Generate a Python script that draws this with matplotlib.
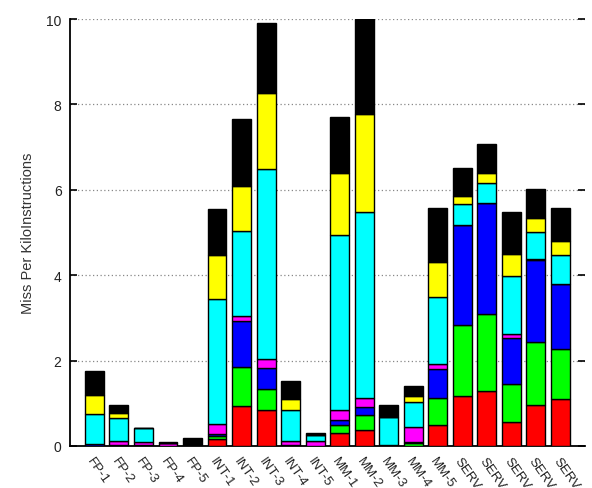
import matplotlib
matplotlib.use("Agg")
import matplotlib.pyplot as plt
import numpy as np

plt.rcParams['font.family'] = ['Liberation Sans', 'DejaVu Sans']

categories = ["FP-1", "FP-2", "FP-3", "FP-4", "FP-5",
              "INT-1", "INT-2", "INT-3", "INT-4", "INT-5",
              "MM-1", "MM-2", "MM-3", "MM-4", "MM-5",
              "SERV-1", "SERV-2", "SERV-3", "SERV-4", "SERV-5"]

red     = [0.00, 0.00, 0.00, 0.00, 0.00, 0.17, 0.93, 0.85, 0.00, 0.00, 0.30, 0.37, 0.00, 0.00, 0.48, 1.18, 1.28, 0.55, 0.97, 1.10]
green   = [0.00, 0.00, 0.00, 0.00, 0.00, 0.07, 0.92, 0.48, 0.00, 0.00, 0.18, 0.36, 0.00, 0.06, 0.65, 1.65, 1.81, 0.90, 1.46, 1.16]
blue    = [0.05, 0.03, 0.02, 0.01, 0.01, 0.05, 1.07, 0.50, 0.03, 0.00, 0.13, 0.18, 0.02, 0.03, 0.67, 2.35, 2.60, 1.07, 1.93, 1.53]
magenta = [0.00, 0.09, 0.08, 0.06, 0.00, 0.23, 0.12, 0.21, 0.09, 0.12, 0.24, 0.21, 0.00, 0.35, 0.12, 0.00, 0.00, 0.10, 0.02, 0.00]
cyan    = [0.70, 0.54, 0.31, 0.00, 0.00, 2.92, 2.00, 4.45, 0.73, 0.13, 4.10, 4.35, 0.65, 0.60, 1.56, 0.49, 0.48, 1.35, 0.64, 0.69]
yellow  = [0.45, 0.11, 0.00, 0.00, 0.00, 1.03, 1.06, 1.77, 0.25, 0.00, 1.45, 2.31, 0.00, 0.13, 0.84, 0.19, 0.22, 0.53, 0.32, 0.33]
black   = [0.56, 0.18, 0.00, 0.03, 0.17, 1.08, 1.56, 1.65, 0.41, 0.06, 1.30, 2.22, 0.30, 0.23, 1.25, 0.64, 0.68, 0.99, 0.68, 0.76]

series = [red, green, blue, magenta, cyan, yellow, black]
colors = ['#ff0000', '#00ff00', '#0000ff', '#ff00ff', '#00ffff', '#ffff00', '#000000']

yticks = [0, 2, 4, 6, 8, 10]

fig = plt.figure(figsize=(5.92, 4.89), dpi=100)
ax = fig.add_axes([0.118, 0.086, 0.870, 0.873])

x = np.arange(len(categories))
bottom = np.zeros(len(categories))
for vals, c in zip(series, colors):
    v = np.array(vals)
    ax.bar(x, v, width=0.77, bottom=bottom, color=c, edgecolor='black',
           linewidth=1.0, zorder=3)
    bottom += v

ax.set_xlim(-1, 20)
ax.set_ylim(0, 10)
ax.set_yticks(yticks)
ax.set_yticklabels([str(t) for t in yticks], fontsize=10, color='#222222')
ax.yaxis.grid(True, linestyle=(0, (1, 2)), color='#888888', linewidth=0.9, zorder=0)
ax.set_axisbelow(True)

ax.set_xticks(x)
ax.set_xticklabels(categories, rotation=-55, ha='left', va='top',
                   rotation_mode='anchor', fontsize=9.5, color='#222222')
ax.tick_params(axis='x', bottom=False, pad=3)
ax.tick_params(axis='y', direction='in', left=True, right=True, length=5, width=1.2, pad=6)

ax.spines['top'].set_visible(False)
ax.spines['right'].set_visible(False)
ax.spines['left'].set_linewidth(1.3)
ax.spines['bottom'].set_linewidth(1.3)

ax.set_ylabel("Miss Per KiloInstructions", fontsize=10.5, color='#333333')
ax.yaxis.set_label_coords(-0.068, 0.5)

fig.savefig("out.png", dpi=100)
